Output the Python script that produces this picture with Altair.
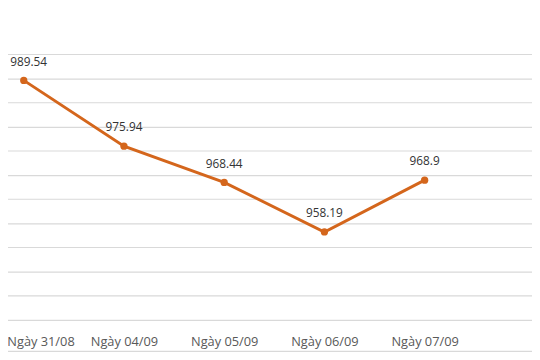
import altair as alt
import pandas as pd

categories = ["Ngày 31/08", "Ngày 04/09", "Ngày 05/09", "Ngày 06/09", "Ngày 07/09"]
values = [989.54, 975.94, 968.44, 958.19, 968.9]
y_ticks = [940, 945, 950, 955, 960, 965, 970, 975, 980, 985, 990, 995]

df = pd.DataFrame({
    "idx": list(range(len(categories))),
    "cat": categories,
    "value": values,
    "label": [str(v) for v in values],
})

FONT = "Open Sans"
ORANGE = "#d4661c"
label_expr = "[" + ",".join("'%s'" % c for c in categories) + "][datum.value]"

x = alt.X(
    "idx:Q",
    scale=alt.Scale(domain=[-0.2359, 5.0713], nice=False, zero=False),
    axis=alt.Axis(
        values=list(range(len(categories))),
        labelExpr=label_expr,
        title=None,
        grid=False,
        ticks=False,
        domain=False,
        labelPadding=16,
        labelFontSize=13,
        labelFont=FONT,
        labelColor="#595959",
        labelOverlap=False,
        labelBound=False,
        labelFlush=False,
        labelOffset={"condition": {"test": "datum.value == 0", "value": 17}, "value": 0},
    ),
)
y = alt.Y(
    "value:Q",
    scale=alt.Scale(domain=[940, 995], nice=False, zero=False),
    axis=alt.Axis(
        values=y_ticks,
        title=None,
        labels=False,
        ticks=False,
        domain=False,
        grid=True,
        gridColor="#d9d9d9",
        gridWidth=1.2,
    ),
)

base = alt.Chart(df)
line = base.mark_line(color=ORANGE, strokeWidth=3).encode(x=x, y=y)
pts = base.mark_point(filled=True, color=ORANGE, size=55, opacity=1).encode(x=x, y=y)
txt = base.transform_filter("datum.idx > 0").mark_text(
    dy=-19, fontSize=12, font=FONT, color="#333333"
).encode(x=x, y=y, text="label:N")
txt_first = base.transform_filter("datum.idx == 0").mark_text(
    dy=-19, dx=5, fontSize=12, font=FONT, color="#333333"
).encode(x=x, y=y, text="label:N")
frame = alt.Chart(pd.DataFrame({"a": [0]})).mark_rule(color="#d9d9d9", strokeWidth=1.2).encode(
    x=alt.value(0), x2=alt.value(540), y=alt.value(302)
)

chart = (
    alt.layer(line, pts, txt, txt_first, frame)
    .properties(
        width=540,
        height=270,
        autosize=alt.AutoSizeParams(type="none"),
        padding={"top": 44, "bottom": 38, "left": -8, "right": 0},
        background="white",
    )
    .configure_view(stroke=None)
)

chart.save("out.html", embed_options={"renderer": "svg", "actions": False})
